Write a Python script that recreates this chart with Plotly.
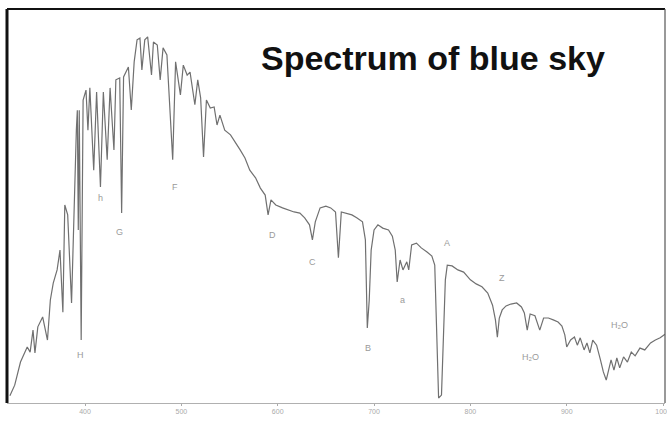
import plotly.graph_objects as go

# Wavelength (nm) and relative intensity
wavelength = [322, 327, 333, 340, 343, 346, 348, 351, 356, 361, 364, 367, 371, 374, 377, 379, 382, 386,
              391, 392, 393, 394, 396, 398, 401, 403, 405, 409, 412, 416, 419, 423, 426, 430, 432, 436,
              438, 440, 445, 448, 451, 454, 457, 459, 462, 465, 469, 471, 475, 478, 481, 485, 491, 494,
              499, 502, 506, 509, 514, 517, 520, 523, 526, 530, 534, 537, 540, 545, 551, 556, 561, 566,
              571, 577, 582, 587, 590, 593, 598, 605, 611, 617, 623, 628, 633, 636, 639, 644, 650, 655,
              660, 663, 666, 671, 677, 682, 688, 691, 693, 695, 697, 700, 704, 709, 715, 719, 722, 724,
              727, 730, 734, 736, 739, 744, 749, 755, 760, 763, 765, 767, 770, 772, 774, 776, 781, 787,
              793, 800, 806, 812, 818, 823, 826, 828, 830, 833, 837, 842, 848, 853, 856, 859, 862, 867,
              872, 876, 881, 886, 891, 895, 898, 900, 904, 908, 911, 914, 918, 921, 924, 927, 931, 935,
              938, 941, 943, 946, 949, 952, 955, 959, 963, 967, 971, 976, 981, 987, 992, 997, 1002]
intensity = [2.5, 5.4, 11.7, 15.8, 14.4, 20.4, 14.2, 21.3, 24.0, 17.7, 28.6, 33.2, 36.8, 42.2, 25.3, 54.5,
             51.8, 27.8, 75.0, 80.3, 47.7, 80.3, 17.7, 83.1, 85.8, 74.9, 86.4, 64.0, 85.3, 59.4, 85.3, 66.8,
             86.4, 69.5, 88.6, 89.1, 52.3, 89.4, 92.1, 80.4, 93.5, 99.5, 100.0, 91.3, 99.5, 100.3, 89.9,
             98.9, 98.1, 88.6, 97.3, 95.4, 66.8, 93.5, 84.5, 92.6, 89.9, 90.7, 81.8, 88.6, 83.7, 67.6, 83.1,
             80.9, 81.2, 76.3, 79.0, 74.9, 73.6, 71.7, 69.5, 67.3, 64.0, 61.9, 59.1, 57.2, 51.8, 55.9, 54.5,
             53.7, 53.1, 52.6, 52.3, 51.0, 49.1, 45.0, 49.9, 53.7, 54.2, 53.7, 52.6, 40.1, 52.6, 52.3, 51.8,
             51.0, 49.9, 45.0, 21.0, 28.6, 42.2, 47.7, 49.1, 48.2, 47.7, 46.0, 42.2, 33.5, 39.5, 36.8, 39.0,
             36.8, 43.6, 44.1, 42.8, 41.7, 40.6, 38.1, 20.4, 1.9, 2.7, 20.4, 34.1, 38.1, 37.9, 36.8, 36.2,
             34.1, 33.0, 32.2, 30.5, 27.2, 23.2, 18.5, 23.7, 25.9, 27.0, 27.5, 27.8, 26.7, 25.1, 20.4, 24.8,
             24.3, 20.4, 23.7, 23.7, 23.2, 22.6, 21.5, 19.1, 15.8, 17.7, 18.5, 16.3, 18.3, 15.0, 16.9, 14.2,
             17.7, 16.3, 12.3, 9.0, 6.8, 9.0, 12.3, 9.5, 12.8, 10.1, 13.1, 11.7, 14.4, 13.4, 15.5, 15.0,
             16.9, 17.7, 18.3, 19.3]

# Small line labels
label_text = ["H", "h", "G", "F", "D", "C", "B", "a", "A", "Z", "H₂O", "H₂O"]
label_wl = [395, 416, 436, 493, 595, 636, 694, 730, 776, 833, 862, 955]
label_int = [13.6, 56.4, 47.1, 59.4, 46.3, 39.0, 15.5, 28.6, 44.1, 34.6, 13.1, 21.8]

tick_vals = [400, 500, 600, 700, 800, 900, 1000]
tick_text = ["400", "500", "600", "700", "800", "900", "1000"]

title_text = "Spectrum of blue sky"

fig = go.Figure()
fig.add_trace(go.Scatter(x=wavelength, y=intensity, mode="lines",
                         line=dict(color="#707070", width=1.2), hoverinfo="skip"))

for t, xw, yi in zip(label_text, label_wl, label_int):
    fig.add_annotation(x=xw, y=yi, text=t, showarrow=False,
                       font=dict(family="Liberation Sans, Arial", size=9, color="#9a9a9a"))

fig.add_annotation(x=0.648, y=0.876, xref="paper", yref="paper", text="<b>" + title_text + "</b>",
                   showarrow=False, xanchor="center", yanchor="middle",
                   font=dict(family="Liberation Sans, Arial", size=34, color="#111111"))

# frame lines
fig.add_shape(type="line", xref="paper", yref="paper", x0=0, x1=0, y0=0, y1=1,
              line=dict(color="#111111", width=3))
fig.add_shape(type="line", xref="paper", yref="paper", x0=0, x1=1, y0=1, y1=1,
              line=dict(color="#111111", width=2))
fig.add_shape(type="line", xref="paper", yref="paper", x0=1, x1=1, y0=0, y1=1,
              line=dict(color="#555555", width=1.2))

fig.update_xaxes(range=[319, 1002], tickvals=tick_vals, ticktext=tick_text, automargin=False,
                 ticks="outside", ticklen=2, tickcolor="#aaaaaa", ticklabeloverflow="allow",
                 tickfont=dict(family="Liberation Sans, Arial", size=7, color="#aaaaaa"),
                 showline=True, linecolor="#b0b0b0", linewidth=1,
                 showgrid=False, zeroline=False)
fig.update_yaxes(range=[0.54, 107.9], showticklabels=False, showgrid=False, zeroline=False,
                 showline=False, automargin=False)

fig.update_layout(width=667, height=421, margin=dict(l=7, r=2, t=9, b=18, autoexpand=False),
                  paper_bgcolor="white", plot_bgcolor="white", showlegend=False)

fig.write_html("out.html", config={"displayModeBar": False},
               post_script="document.body.style.margin='0';document.body.style.overflow='hidden';")
